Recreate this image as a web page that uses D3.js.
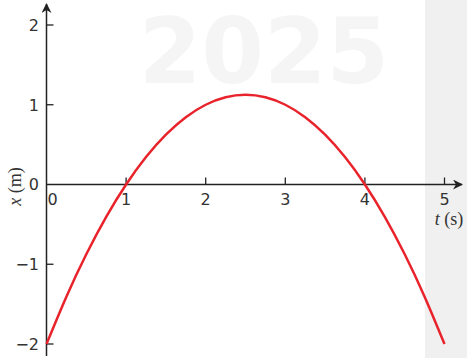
<!DOCTYPE html>
<html>
<head>
<meta charset="utf-8">
<script src="https://cdn.jsdelivr.net/npm/d3@7"></script>
<style>
  html, body { margin: 0; padding: 0; background: #fff; }
  svg { display: block; }
</style>
</head>
<body>
<svg id="chart" width="467" height="358"></svg>
<script>
// Position of the object over time
const tValues = [0, 0.25, 0.5, 0.75, 1, 1.25, 1.5, 1.75, 2, 2.25, 2.5, 2.75, 3, 3.25, 3.5, 3.75, 4, 4.25, 4.5, 4.75, 5];
const xValues = [-2, -1.406, -0.875, -0.406, 0, 0.344, 0.625, 0.844, 1, 1.094, 1.125, 1.094, 1, 0.844, 0.625, 0.344, 0, -0.406, -0.875, -1.406, -2];
const tTicks = [1, 2, 3, 4, 5];
const xTicks = [-2, -1, 0, 1, 2];

const W = 467, H = 358;
const svg = d3.select("#chart");

const tScale = d3.scaleLinear().domain([0, 5]).range([46.5, 444.5]);
const xScale = d3.scaleLinear().domain([-2, 2]).range([344, 25]);

// light background band on the right and faint year mark
svg.append("rect").attr("x", 425).attr("y", 0).attr("width", W - 425).attr("height", H).attr("fill", "#f0f0f0");
svg.append("text")
  .attr("x", 264).attr("y", 83)
  .attr("text-anchor", "middle")
  .attr("font-family", "DejaVu Sans")
  .attr("font-weight", "bold")
  .attr("font-size", 90)
  .attr("fill", "#f5f5f5")
  .text("2025");

const axisColor = "#222";
const textColor = "#333";
const font = "DejaVu Sans";

// arrowhead
svg.append("defs").append("marker")
  .attr("id", "arrow")
  .attr("viewBox", "0 0 10 10")
  .attr("refX", 9).attr("refY", 5)
  .attr("markerWidth", 10).attr("markerHeight", 10)
  .attr("markerUnits", "userSpaceOnUse")
  .attr("orient", "auto")
  .append("path").attr("d", "M0,0 L10,5 L0,10 L3,5 Z").attr("fill", axisColor);

const y0 = xScale(0), x0 = tScale(0);

// horizontal axis (t)
svg.append("line")
  .attr("x1", x0).attr("y1", y0).attr("x2", 462).attr("y2", y0)
  .attr("stroke", axisColor).attr("stroke-width", 1.5)
  .attr("marker-end", "url(#arrow)");
// vertical axis (x)
svg.append("line")
  .attr("x1", x0).attr("y1", 356).attr("x2", x0).attr("y2", 4)
  .attr("stroke", axisColor).attr("stroke-width", 1.5)
  .attr("marker-end", "url(#arrow)");

// t ticks and labels
const tg = svg.append("g");
tg.selectAll("line").data(tTicks).join("line")
  .attr("x1", d => tScale(d)).attr("x2", d => tScale(d))
  .attr("y1", y0 - 7).attr("y2", y0)
  .attr("stroke", axisColor).attr("stroke-width", 1.3);
tg.selectAll("text").data([0].concat(tTicks)).join("text")
  .attr("x", d => d === 0 ? tScale(0) + 6 : tScale(d))
  .attr("y", y0 + 20)
  .attr("text-anchor", "middle")
  .attr("font-family", font).attr("font-size", 16).attr("fill", textColor)
  .text(d => d);

// x ticks and labels
const xg = svg.append("g");
xg.selectAll("line").data(xTicks.filter(d => d !== 0)).join("line")
  .attr("x1", x0).attr("x2", x0 + 7)
  .attr("y1", d => xScale(d)).attr("y2", d => xScale(d))
  .attr("stroke", axisColor).attr("stroke-width", 1.3);
xg.selectAll("text").data(xTicks).join("text")
  .attr("x", 39)
  .attr("y", d => xScale(d))
  .attr("dy", "0.36em")
  .attr("text-anchor", "end")
  .attr("font-family", font).attr("font-size", 16).attr("fill", textColor)
  .text(d => d < 0 ? "\u2212" + Math.abs(d) : d);

// axis titles
const xt = svg.append("text")
  .attr("transform", "translate(21," + (y0 + 2) + ") rotate(-90)")
  .attr("text-anchor", "middle")
  .attr("font-family", "Liberation Serif").attr("font-size", 18).attr("fill", textColor);
xt.append("tspan").attr("font-style", "italic").text("x");
xt.append("tspan").text(" (m)");

const tt = svg.append("text")
  .attr("x", 449).attr("y", 225)
  .attr("text-anchor", "middle")
  .attr("font-family", "Liberation Serif").attr("font-size", 18).attr("fill", textColor);
tt.append("tspan").attr("font-style", "italic").text("t");
tt.append("tspan").text(" (s)");

// curve
const line = d3.line()
  .x((d, i) => tScale(tValues[i]))
  .y(d => xScale(d))
  .curve(d3.curveNatural);
svg.append("path")
  .datum(xValues)
  .attr("d", line)
  .attr("fill", "none")
  .attr("stroke", "#e8232b")
  .attr("stroke-width", 2.5);
</script>
</body>
</html>
